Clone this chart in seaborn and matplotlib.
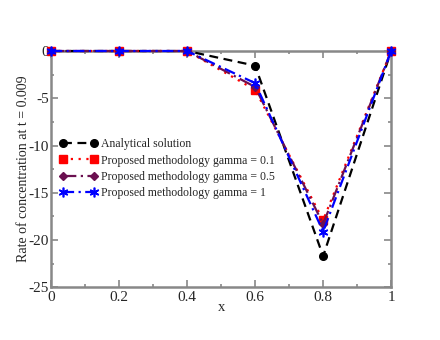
import matplotlib
matplotlib.use('Agg')
import matplotlib.pyplot as plt
import pandas as pd
import seaborn as sns
from matplotlib.ticker import MultipleLocator

# Data
x = [0, 0.2, 0.4, 0.6, 0.8, 1.0]
analytical = [0, 0, 0, -1.55, -21.7, 0]
gamma_01 = [0, 0, 0, -4.1, -17.9, 0]
gamma_05 = [0, 0, 0, -3.8, -18.3, 0]
gamma_1 = [0, 0, 0, -3.4, -19.1, 0]

labels = ['Analytical solution',
          'Proposed methodology gamma = 0.1',
          'Proposed methodology gamma = 0.5',
          'Proposed methodology gamma = 1']

sns.set_style('ticks')
plt.rcParams['font.family'] = ['Liberation Serif', 'DejaVu Serif']

fig = plt.figure(figsize=(4.4, 3.4), dpi=100)
ax = fig.add_axes([0.116, 0.155, 0.773, 0.695])

series = [
    (analytical, 'black', 'o', (0, (4, 2.5)), 5.5, 1),
    (gamma_01, '#ff0000', 's', (0, (1, 2.5)), 5.5, 1),
    (gamma_05, '#6b1050', 'D', (0, (6, 2, 1, 2)), 4, 1),
    (gamma_1, '#0000ff', (6, 2, 0), (0, (5, 2, 1, 2)), 7, 1.2),
]

for (vals, color, marker, ls, ms, mew), lab in zip(series, labels):
    df = pd.DataFrame({'x': x, 'y': vals})
    sns.lineplot(data=df, x='x', y='y', ax=ax, color=color, marker=marker,
                 markersize=ms, markeredgecolor=color, markeredgewidth=mew,
                 linestyle=ls, linewidth=1.6, label=lab, clip_on=False)

ax.set_xlim(0, 1)
ax.set_ylim(-25, 0)
ax.set_xticks([0, 0.2, 0.4, 0.6, 0.8, 1.0])
ax.set_xticklabels(['0', '0.2', '0.4', '0.6', '0.8', '1'])
ax.set_yticks([-25, -20, -15, -10, -5, 0])
ax.set_yticklabels(['-25', '-20', '-15', '-10', '-5', '0'])
ax.xaxis.set_minor_locator(MultipleLocator(0.1))
ax.yaxis.set_minor_locator(MultipleLocator(2.5))

ax.tick_params(which='both', direction='in', top=True, right=True,
               color='#888888', labelsize=11)
ax.tick_params(axis='x', pad=2.5)
ax.tick_params(axis='y', pad=1.5)
ax.tick_params(which='major', length=5, width=1.2)
ax.tick_params(which='minor', length=2.5, width=1.2)
for sp in ax.spines.values():
    sp.set_visible(True)
    sp.set_color('#888888')
    sp.set_linewidth(1.8)
    sp.set_zorder(0.5)

ax.set_xlabel('x', fontsize=10.5, labelpad=-2)
ax.set_ylabel('Rate of concentration at t = 0.009', fontsize=10, labelpad=-1)

ax.legend(loc='upper left', bbox_to_anchor=(0.0, 0.665), frameon=False,
          fontsize=8.5, numpoints=2, handlelength=3.2, handletextpad=0.3,
          labelspacing=0.35, borderaxespad=0.3)

fig.savefig('out.png', dpi=100)
